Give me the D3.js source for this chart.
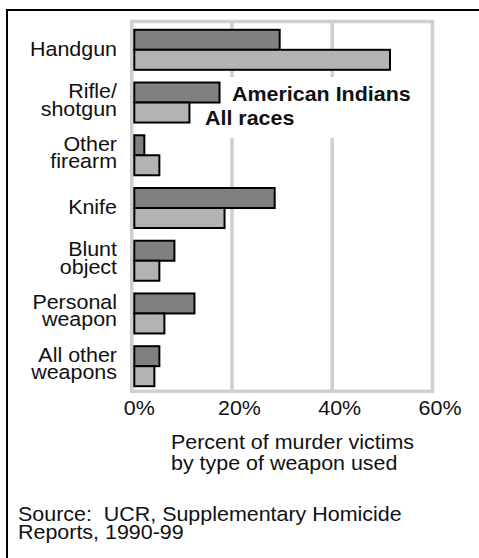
<!DOCTYPE html>
<html>
<head>
<meta charset="utf-8">
<script src="https://cdn.jsdelivr.net/npm/d3@7"></script>
<style>
  html, body { margin: 0; padding: 0; background: #fff; }
  text { font-family: "Liberation Sans", Arial, Helvetica, sans-serif; fill: #111; white-space: pre; }
</style>
</head>
<body>
<svg id="chart" width="479" height="558"></svg>
<script>
// ---- data ----
const categories = [
  ["Handgun"],
  ["Rifle/", "shotgun"],
  ["Other", "firearm"],
  ["Knife"],
  ["Blunt", "object"],
  ["Personal", "weapon"],
  ["All other", "weapons"]
];
const americanIndians = [29, 17, 2, 28, 8, 12, 5];
const allRaces        = [51, 11, 5, 18, 5, 6, 4];
const seriesNames = ["American Indians", "All races"];
const xTicks = [0, 20, 40, 60];
const xTickLabels = ["0%", "20%", "40%", "60%"];
const axisTitle = ["Percent of murder victims", "by type of weapon used"];
const sourceNote = ["Source:  UCR, Supplementary Homicide", "Reports, 1990-99"];

// ---- layout ----
const svg = d3.select("#chart");
const W = 479, H = 558;
const fs = 19.5;       // font size
const sx = 1.1;        // horizontal stretch of the original lettering
const gridColor = "#cfcfcf";
const cAI = "#808080", cAll = "#b3b3b3";

function addText(parent, px, py, str, anchor, bold) {
  const t = parent.append("text")
    .attr("transform", `translate(${px},${py}) scale(${sx},1)`)
    .attr("text-anchor", anchor || "start")
    .attr("font-size", fs)
    .text(str);
  if (bold) t.attr("font-weight", "bold");
  return t;
}

const keys = categories.map((c, i) => "c" + i);
const x = d3.scaleLinear().domain([0, 60]).range([131.7, 432.5]);
const y = d3.scaleBand().domain(keys).range([23, 393]).paddingInner(0.2414).paddingOuter(0.129);
const sub = d3.scaleBand().domain(seriesNames).range([0, y.bandwidth()]);

// outer frame (left and top lines only visible)
svg.append("line").attr("x1", 7).attr("x2", 7).attr("y1", 9).attr("y2", H)
  .attr("stroke", "#000").attr("stroke-width", 2);
svg.append("line").attr("x1", 6).attr("x2", W).attr("y1", 10).attr("y2", 10)
  .attr("stroke", "#000").attr("stroke-width", 2);

// gridlines
svg.append("g").selectAll("line").data(xTicks.slice(1, -1)).join("line")
  .attr("x1", d => x(d)).attr("x2", d => x(d))
  .attr("y1", 21.5).attr("y2", 391.3)
  .attr("stroke", gridColor).attr("stroke-width", 3.5);

// plot frame
svg.append("rect")
  .attr("x", x(0)).attr("y", 21.5)
  .attr("width", x(60) - x(0)).attr("height", 391.3 - 21.5)
  .attr("fill", "none").attr("stroke", gridColor).attr("stroke-width", 3.5);

// legend background (masks gridlines)
svg.append("rect").attr("x", 200).attr("y", 77).attr("width", 222).attr("height", 61)
  .attr("fill", "#fff");

// bars
const barOffset = 2.6;
const groups = svg.append("g").selectAll("g").data(keys).join("g")
  .attr("transform", k => `translate(0,${y(k)})`);
groups.each(function(k, i) {
  const g = d3.select(this);
  const vals = [americanIndians[i], allRaces[i]];
  g.selectAll("rect").data(seriesNames).join("rect")
    .attr("x", x(0) + barOffset)
    .attr("y", s => sub(s))
    .attr("width", (s, j) => x(vals[j]) - x(0))
    .attr("height", sub.bandwidth())
    .attr("fill", (s, j) => j === 0 ? cAI : cAll)
    .attr("stroke", "#000").attr("stroke-width", 2);
});

// category labels
const labels = svg.append("g");
categories.forEach((lines, i) => {
  const cy = y(keys[i]) + y.bandwidth() / 2;
  if (lines.length === 1) {
    addText(labels, 117, cy + 6, lines[0], "end");
  } else {
    addText(labels, 117, cy - 4.5, lines[0], "end");
    addText(labels, 117, cy + 13, lines[1], "end");
  }
});

// legend text
addText(svg, 232, 100.5, seriesNames[0], "start", true);
addText(svg, 205, 125, seriesNames[1], "start", true);

// x axis tick labels
const axis = d3.axisBottom(x).tickValues(xTicks).tickSize(0)
  .tickFormat((d, i) => xTickLabels[i]);
const ax = svg.append("g").attr("transform", "translate(7,0)").call(axis);
ax.select(".domain").remove();
ax.selectAll(".tick text").attr("y", 415).attr("dy", null)
  .attr("transform", `translate(0,415) scale(${sx},1) translate(0,-415)`)
  .attr("font-size", fs).attr("font-family", "Liberation Sans, Arial, sans-serif")
  .attr("fill", "#111");

// axis title
axisTitle.forEach((s, i) => addText(svg, 171, 448.5 + i * 21, s, "start"));

// source
sourceNote.forEach((s, i) => addText(svg, 18, 520.5 + i * 18.5, s, "start"));
</script>
</body>
</html>
